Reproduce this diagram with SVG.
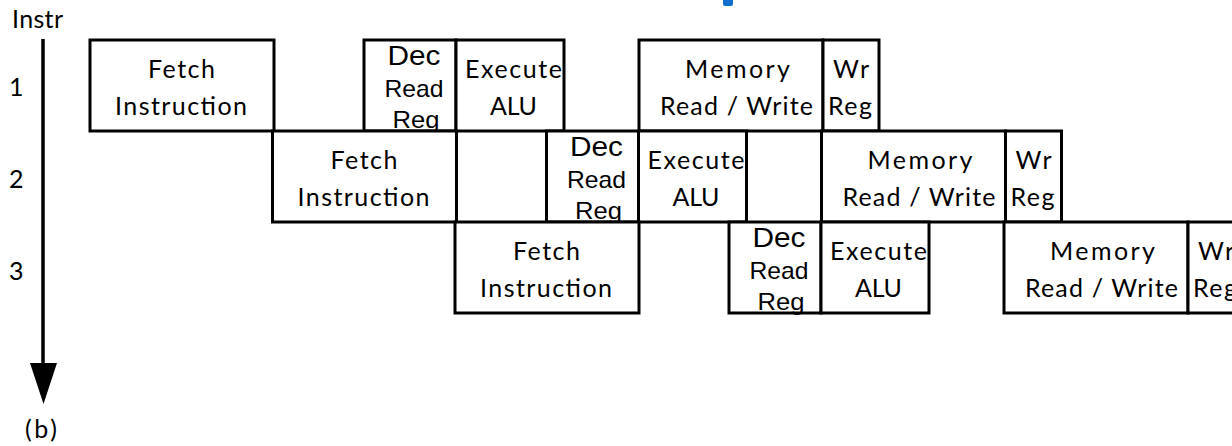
<svg xmlns="http://www.w3.org/2000/svg" width="1232" height="446" viewBox="0 0 1232 446">
  <style>
    .box { fill: #fff; stroke: #000; stroke-width: 3; stroke-linejoin: miter; }
    .t { font-family: Lato, "Liberation Sans", sans-serif; font-size: 25px; fill: #000; }
    .a { font-family: "Liberation Sans", Arial, sans-serif; fill: #000; }
    .m { text-anchor: middle; }
    .dec { font-size: 28px; }
    .rd { font-size: 24px; }
    .axis { stroke: #000; stroke-width: 3.5; fill: none; }
  </style>

  <rect width="1232" height="446" fill="#fff"/>

  <!-- fragment of the blue title above the chart -->
  <rect x="723" y="-4" width="10" height="10" rx="2" fill="#1170CF"/>

  <!-- axis labels -->
  <g id="labels">
    <text class="t" x="12" y="28" textLength="51" lengthAdjust="spacing">Instr</text>
    <text class="t" x="9" y="96">1</text>
    <text class="t" x="9" y="188">2</text>
    <text class="t" x="9" y="280">3</text>
    <text class="t" x="25" y="438" textLength="32" lengthAdjust="spacing">(b)</text>
  </g>

  <!-- instruction 1 -->
  <g id="instr1" transform="translate(90,40)">
    <g id="i1-fetch">
      <rect class="box" x="0" y="0" width="184" height="91"/>
      <text class="t m" x="91.5" y="38" textLength="67" lengthAdjust="spacing">Fetch</text>
      <text class="t m" x="91" y="75" textLength="132" lengthAdjust="spacing">Instruction</text>
    </g>
    <g id="i1-dec">
      <rect class="box" x="274" y="0" width="92" height="91"/>
      <text class="a m dec" x="324" y="25" textLength="53" lengthAdjust="spacingAndGlyphs">Dec</text>
      <text class="a m rd" x="324" y="57" textLength="59" lengthAdjust="spacingAndGlyphs">Read</text>
      <text class="a m rd" x="326" y="88" textLength="47" lengthAdjust="spacingAndGlyphs">Reg</text>
    </g>
    <g id="i1-exec">
      <rect class="box" x="366" y="0" width="108" height="91"/>
      <text class="t" x="375" y="38" textLength="97" lengthAdjust="spacing">Execute</text>
      <text class="t m" x="423.5" y="75" textLength="47" lengthAdjust="spacing">ALU</text>
    </g>
    <g id="i1-mem">
      <rect class="box" x="549" y="0" width="184" height="91"/>
      <text class="t m" x="647.5" y="38" textLength="105" lengthAdjust="spacing">Memory</text>
      <text class="t m" x="646.5" y="75" textLength="153" lengthAdjust="spacing">Read / Write</text>
    </g>
    <g id="i1-wr">
      <rect class="box" x="733" y="0" width="56" height="91"/>
      <text class="t" x="743" y="38" textLength="36" lengthAdjust="spacing">Wr</text>
      <text class="t" x="738" y="75" textLength="44" lengthAdjust="spacing">Reg</text>
    </g>
  </g>

  <!-- instruction 2 -->
  <g id="instr2" transform="translate(272.5,131)">
    <g id="i2-fetch">
      <rect class="box" x="0" y="0" width="184" height="91"/>
      <text class="t m" x="91.5" y="38" textLength="67" lengthAdjust="spacing">Fetch</text>
      <text class="t m" x="91" y="75" textLength="132" lengthAdjust="spacing">Instruction</text>
    </g>
    <g id="i2-dec">
      <rect class="box" x="274" y="0" width="92" height="91"/>
      <text class="a m dec" x="324" y="25" textLength="53" lengthAdjust="spacingAndGlyphs">Dec</text>
      <text class="a m rd" x="324" y="57" textLength="59" lengthAdjust="spacingAndGlyphs">Read</text>
      <text class="a m rd" x="326" y="88" textLength="47" lengthAdjust="spacingAndGlyphs">Reg</text>
    </g>
    <g id="i2-exec">
      <rect class="box" x="366" y="0" width="108" height="91"/>
      <text class="t" x="375" y="38" textLength="97" lengthAdjust="spacing">Execute</text>
      <text class="t m" x="423.5" y="75" textLength="47" lengthAdjust="spacing">ALU</text>
    </g>
    <g id="i2-mem">
      <rect class="box" x="549" y="0" width="184" height="91"/>
      <text class="t m" x="647.5" y="38" textLength="105" lengthAdjust="spacing">Memory</text>
      <text class="t m" x="646.5" y="75" textLength="153" lengthAdjust="spacing">Read / Write</text>
    </g>
    <g id="i2-wr">
      <rect class="box" x="733" y="0" width="56" height="91"/>
      <text class="t" x="743" y="38" textLength="36" lengthAdjust="spacing">Wr</text>
      <text class="t" x="738" y="75" textLength="44" lengthAdjust="spacing">Reg</text>
    </g>
  </g>

  <!-- instruction 3 -->
  <g id="instr3" transform="translate(455,222)">
    <g id="i3-fetch">
      <rect class="box" x="0" y="0" width="184" height="91"/>
      <text class="t m" x="91.5" y="38" textLength="67" lengthAdjust="spacing">Fetch</text>
      <text class="t m" x="91" y="75" textLength="132" lengthAdjust="spacing">Instruction</text>
    </g>
    <g id="i3-dec">
      <rect class="box" x="274" y="0" width="92" height="91"/>
      <text class="a m dec" x="324" y="25" textLength="53" lengthAdjust="spacingAndGlyphs">Dec</text>
      <text class="a m rd" x="324" y="57" textLength="59" lengthAdjust="spacingAndGlyphs">Read</text>
      <text class="a m rd" x="326" y="88" textLength="47" lengthAdjust="spacingAndGlyphs">Reg</text>
    </g>
    <g id="i3-exec">
      <rect class="box" x="366" y="0" width="108" height="91"/>
      <text class="t" x="375" y="38" textLength="97" lengthAdjust="spacing">Execute</text>
      <text class="t m" x="423.5" y="75" textLength="47" lengthAdjust="spacing">ALU</text>
    </g>
    <g id="i3-mem">
      <rect class="box" x="549" y="0" width="184" height="91"/>
      <text class="t m" x="647.5" y="38" textLength="105" lengthAdjust="spacing">Memory</text>
      <text class="t m" x="646.5" y="75" textLength="153" lengthAdjust="spacing">Read / Write</text>
    </g>
    <g id="i3-wr">
      <rect class="box" x="733" y="0" width="56" height="91"/>
      <text class="t" x="743" y="38" textLength="36" lengthAdjust="spacing">Wr</text>
      <text class="t" x="738" y="75" textLength="44" lengthAdjust="spacing">Reg</text>
    </g>
  </g>

  <!-- time axis running down the instruction list -->
  <g id="connectors">
    <line class="axis" x1="43" y1="39" x2="43" y2="365"/>
    <polygon points="30,363 57,363 43.5,404" fill="#000"/>
  </g>
</svg>
